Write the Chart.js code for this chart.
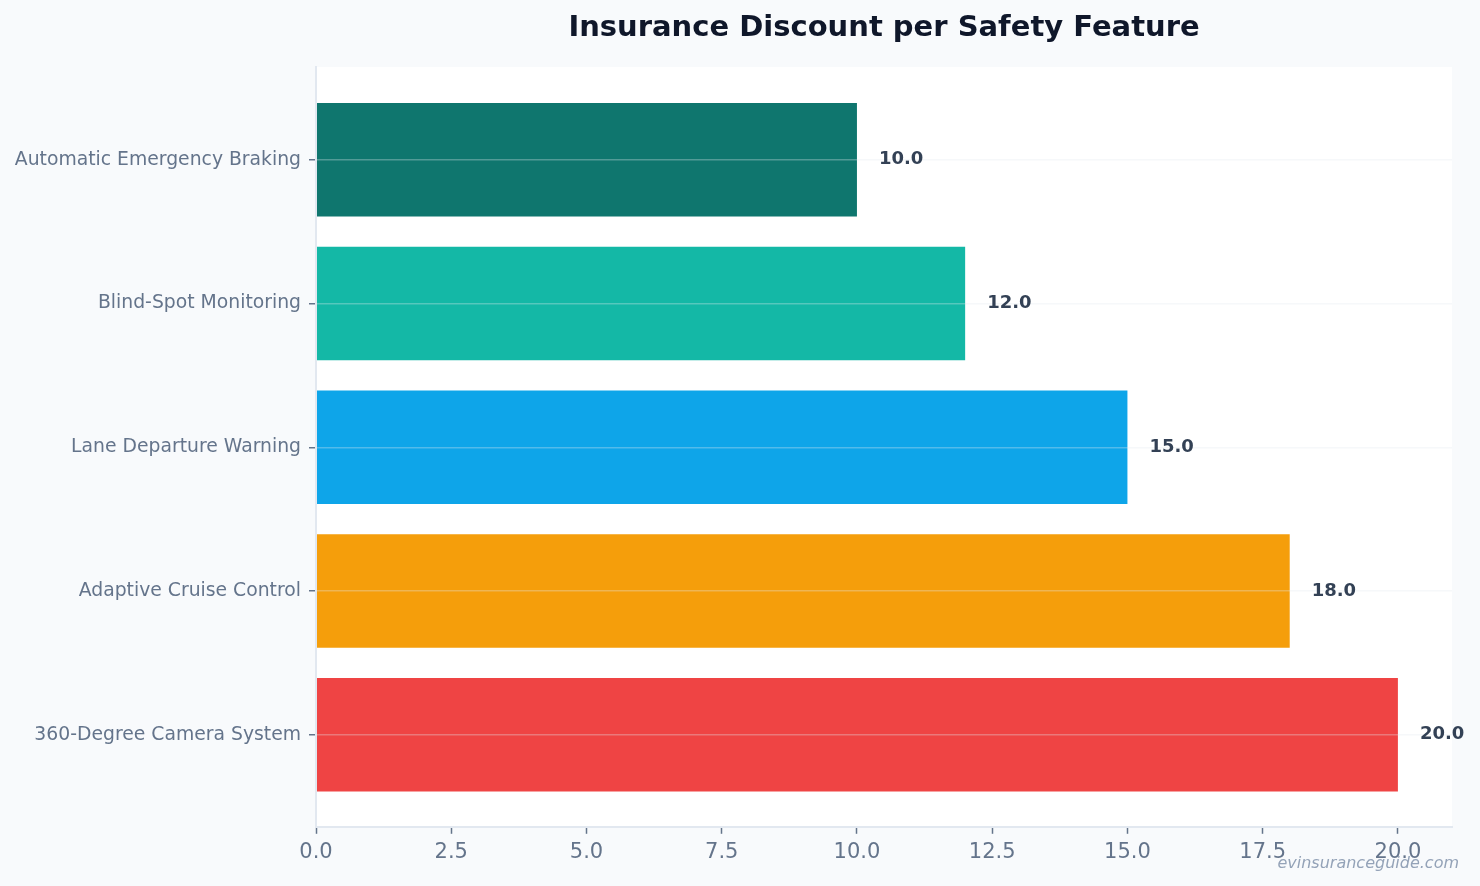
<!DOCTYPE html>
<html>
<head>
<meta charset="utf-8">
<script src="https://cdn.jsdelivr.net/npm/chart.js@4.4.0/dist/chart.umd.min.js"></script>
<style>
  html, body { margin: 0; padding: 0; background: #f8fafc; }
  #wrap { width: 1480px; height: 886px; position: relative; }
</style>
</head>
<body>
<div id="wrap"><canvas id="chart"></canvas></div>
<script>
// data
const features = ['Automatic Emergency Braking', 'Blind-Spot Monitoring', 'Lane Departure Warning', 'Adaptive Cruise Control', '360-Degree Camera System']
const discounts = [10, 12, 15, 18, 20]
const barColors = ['#0f766e', '#14b8a6', '#0ea5e9', '#f59e0b', '#ef4444']
const xTicks = [0, 2.5, 5, 7.5, 10, 12.5, 15, 17.5, 20]

const FONT = "'DejaVu Sans', sans-serif"

// white plot area, title, value labels, watermark
const decor = {
    id: 'decor',
    beforeDraw(chart) {
        const { ctx, chartArea: a } = chart
        ctx.save()
        ctx.fillStyle = '#ffffff'
        ctx.fillRect(a.left, a.top, a.right - a.left, a.bottom - a.top)
        ctx.restore()
    },
    afterDraw(chart) {
        const { ctx, chartArea: a } = chart
        ctx.save()
        ctx.fillStyle = '#0f172a'
        ctx.font = 'bold 29px ' + FONT
        ctx.textAlign = 'center'
        ctx.textBaseline = 'middle'
        ctx.fillText('Insurance Discount per Safety Feature', (a.left + a.right) / 2, 28)

        ctx.font = 'bold 18px ' + FONT
        ctx.fillStyle = '#334155'
        ctx.textAlign = 'left'
        chart.getDatasetMeta(0).data.forEach(function (bar, i) {
            ctx.fillText(discounts[i].toFixed(1), bar.x + 22, bar.y)
        })

        ctx.font = 'italic 16px ' + FONT
        ctx.fillStyle = '#94a3b8'
        ctx.textAlign = 'right'
        ctx.textBaseline = 'alphabetic'
        ctx.fillText('evinsuranceguide.com', 1459, 868)
        ctx.restore()
    }
}

new Chart(document.getElementById('chart'), {
    type: 'bar',
    data: {
        datasets: [{
            data: discounts.map(function (v, i) { return { x: v, y: i } }),
            backgroundColor: barColors,
            borderWidth: 0,
            barPercentage: 0.79,
            categoryPercentage: 1
        }]
    },
    options: {
        indexAxis: 'y',
        responsive: true,
        maintainAspectRatio: false,
        animation: false,
        layout: { padding: { top: 67, right: 28, bottom: 15, left: 14 } },
        plugins: {
            legend: { display: false },
            title: { display: false },
            tooltip: { enabled: false }
        },
        scales: {
            x: {
                type: 'linear',
                min: 0,
                max: 21,
                afterBuildTicks: function (axis) {
                    axis.ticks = xTicks.map(function (v) { return { value: v } })
                },
                ticks: {
                    color: '#64748b',
                    font: { family: FONT, size: 21 },
                    padding: 6,
                    callback: function (v) { return Number(v).toFixed(1) }
                },
                grid: { drawOnChartArea: false, tickLength: 7, tickColor: '#64748b', tickWidth: 1.5 },
                border: { color: '#e2e8f0', width: 2 }
            },
            y: {
                type: 'linear',
                min: -0.645,
                max: 4.64,
                reverse: true,
                offset: false,
                afterBuildTicks: function (axis) {
                    axis.ticks = features.map(function (f, i) { return { value: i } })
                },
                afterFit: function (axis) { axis.width = 302 },
                ticks: {
                    color: '#64748b',
                    font: { family: FONT, size: 18.8 },
                    padding: 8,
                    callback: function (v) { return features[v] }
                },
                grid: { z: 1, offset: false, color: 'rgba(226,232,240,0.32)', lineWidth: 1.5, tickLength: 7, tickColor: '#64748b', tickWidth: 1.5 },
                border: { z: 1, color: '#e2e8f0', width: 2 }
            }
        }
    },
    plugins: [decor]
})
</script>
</body>
</html>
